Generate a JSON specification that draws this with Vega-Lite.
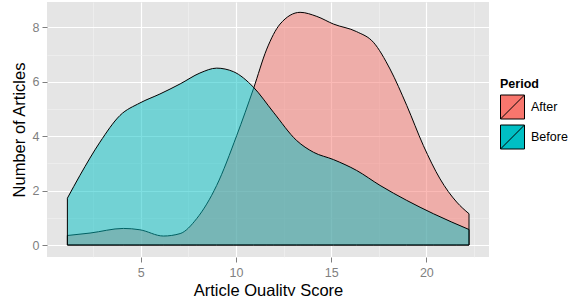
{
  "$schema": "https://vega.github.io/schema/vega-lite/v6.json",
  "autosize": "none",
  "width": 442,
  "height": 255,
  "padding": {"left": 47, "top": 2, "right": 80, "bottom": 39},
  "background": "white",
  "config": {
    "font": "Liberation Sans",
    "view": {"fill": "#E5E5E5", "stroke": null},
    "axis": {"domain": false, "labelColor": "#7F7F7F", "labelFontSize": 12.5, "tickColor": "#7F7F7F", "titleColor": "black", "titleFontSize": 16.5, "titleFontWeight": "normal", "gridColor": "white", "gridWidth": 1.2}
  },
  "data": {"values": [
    {"x": 1.15, "y": 0.35, "Period": "After"},
    {"x": 2.34, "y": 0.44, "Period": "After"},
    {"x": 4.09, "y": 0.61, "Period": "After"},
    {"x": 4.96, "y": 0.56, "Period": "After"},
    {"x": 6.19, "y": 0.33, "Period": "After"},
    {"x": 7.07, "y": 0.42, "Period": "After"},
    {"x": 7.94, "y": 0.97, "Period": "After"},
    {"x": 8.99, "y": 2.19, "Period": "After"},
    {"x": 10.04, "y": 4.02, "Period": "After"},
    {"x": 10.92, "y": 5.74, "Period": "After"},
    {"x": 11.62, "y": 7.2, "Period": "After"},
    {"x": 12.32, "y": 8.12, "Period": "After"},
    {"x": 13.37, "y": 8.55, "Period": "After"},
    {"x": 14.25, "y": 8.4, "Period": "After"},
    {"x": 15.12, "y": 8.12, "Period": "After"},
    {"x": 16.34, "y": 7.84, "Period": "After"},
    {"x": 17.22, "y": 7.45, "Period": "After"},
    {"x": 18.09, "y": 6.47, "Period": "After"},
    {"x": 18.97, "y": 5.13, "Period": "After"},
    {"x": 19.84, "y": 3.66, "Period": "After"},
    {"x": 20.72, "y": 2.43, "Period": "After"},
    {"x": 21.59, "y": 1.58, "Period": "After"},
    {"x": 22.24, "y": 1.15, "Period": "After"},
    {"x": 1.15, "y": 1.72, "Period": "Before"},
    {"x": 1.81, "y": 2.56, "Period": "Before"},
    {"x": 2.86, "y": 3.78, "Period": "Before"},
    {"x": 3.91, "y": 4.76, "Period": "Before"},
    {"x": 4.96, "y": 5.22, "Period": "Before"},
    {"x": 6.01, "y": 5.55, "Period": "Before"},
    {"x": 7.07, "y": 5.92, "Period": "Before"},
    {"x": 8.11, "y": 6.32, "Period": "Before"},
    {"x": 8.99, "y": 6.5, "Period": "Before"},
    {"x": 9.87, "y": 6.37, "Period": "Before"},
    {"x": 10.92, "y": 5.8, "Period": "Before"},
    {"x": 11.97, "y": 4.88, "Period": "Before"},
    {"x": 13.19, "y": 3.84, "Period": "Before"},
    {"x": 14.07, "y": 3.41, "Period": "Before"},
    {"x": 15.12, "y": 3.14, "Period": "Before"},
    {"x": 16.34, "y": 2.74, "Period": "Before"},
    {"x": 17.57, "y": 2.19, "Period": "Before"},
    {"x": 18.97, "y": 1.64, "Period": "Before"},
    {"x": 20.37, "y": 1.15, "Period": "Before"},
    {"x": 22.24, "y": 0.57, "Period": "Before"}
  ]},
  "resolve": {"axis": {"x": "independent", "y": "independent"}},
  "layer": [
    {
      "mark": {"type": "point", "opacity": 0},
      "encoding": {
        "x": {"field": "x", "type": "quantitative", "scale": {"domain": [0.08, 23.29], "nice": false, "zero": false},
          "axis": {"orient": "bottom", "values": [2.5, 7.5, 12.5, 17.5, 22.5], "grid": true, "gridColor": "#F2F2F2", "gridWidth": 0.6, "labels": false, "ticks": false, "title": null}},
        "y": {"field": "y", "type": "quantitative", "scale": {"domain": [-0.44, 8.93], "nice": false, "zero": false},
          "axis": {"orient": "left", "values": [1, 3, 5, 7], "grid": true, "gridColor": "#F2F2F2", "gridWidth": 0.6, "labels": false, "ticks": false, "title": null}}
      }
    },
    {
      "transform": [{"filter": "datum.Period == 'After'"}],
      "mark": {"type": "area", "interpolate": "monotone", "fillOpacity": 0.5, "stroke": "black", "strokeWidth": 1},
      "encoding": {
        "x": {"field": "x", "type": "quantitative",
          "axis": {"orient": "bottom", "values": [5, 10, 15, 20], "grid": true, "tickSize": 5, "labelPadding": 4, "title": "Article Quality Score", "titlePadding": 4}},
        "y": {"field": "y", "type": "quantitative", "stack": null,
          "axis": {"orient": "left", "values": [0, 2, 4, 6, 8], "grid": true, "tickSize": 5, "labelPadding": 3, "title": "Number of Articles", "titlePadding": 5}},
        "color": {"field": "Period", "type": "nominal",
          "scale": {"domain": ["After", "Before"], "range": ["#F8766D", "#00BFC4"]},
          "legend": {"orient": "none", "legendX": 453, "legendY": 76, "title": "Period", "titleFontSize": 12.5, "titleFontWeight": "bold", "titleColor": "black", "labelFontSize": 12.5, "labelColor": "black", "symbolType": "M-1,-1H1V1H-1Z M-1,1L1,-1", "symbolSize": 576, "symbolOpacity": 1, "symbolStrokeColor": "black", "symbolStrokeWidth": 1, "rowPadding": 1, "labelOffset": 6, "titlePadding": 4}}
      }
    },
    {
      "transform": [{"filter": "datum.Period == 'Before'"}],
      "mark": {"type": "area", "interpolate": "monotone", "fillOpacity": 0.5, "stroke": "black", "strokeWidth": 1},
      "encoding": {
        "x": {"field": "x", "type": "quantitative", "axis": null},
        "y": {"field": "y", "type": "quantitative", "stack": null, "axis": null},
        "color": {"field": "Period", "type": "nominal"}
      }
    }
  ]
}
